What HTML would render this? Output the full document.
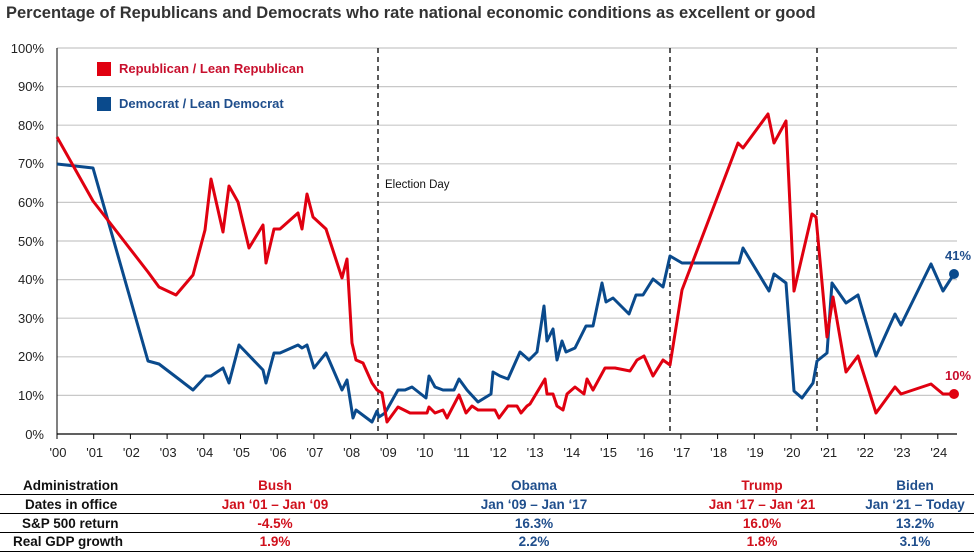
<!DOCTYPE html>
<html><head><meta charset="utf-8"><style>
body{margin:0;background:#fff;}
svg{display:block;font-family:"Liberation Sans",sans-serif;}
</style></head><body>
<svg width="974" height="554" viewBox="0 0 974 554" xmlns="http://www.w3.org/2000/svg">
<text x="6" y="18" font-size="16.5" font-weight="bold" fill="#333">Percentage of Republicans and Democrats who rate national economic conditions as excellent or good</text>
<g stroke="#c8c8c8" stroke-width="1.2">
<line x1="57" x2="957" y1="48" y2="48"/><line x1="57" x2="957" y1="86.6" y2="86.6"/><line x1="57" x2="957" y1="125.2" y2="125.2"/><line x1="57" x2="957" y1="163.8" y2="163.8"/><line x1="57" x2="957" y1="202.4" y2="202.4"/><line x1="57" x2="957" y1="241" y2="241"/><line x1="57" x2="957" y1="279.6" y2="279.6"/><line x1="57" x2="957" y1="318.2" y2="318.2"/><line x1="57" x2="957" y1="356.8" y2="356.8"/><line x1="57" x2="957" y1="395.4" y2="395.4"/>
</g>
<g font-size="13" fill="#222" text-anchor="end">
<text x="44" y="53">100%</text><text x="44" y="91">90%</text><text x="44" y="130">80%</text><text x="44" y="168">70%</text><text x="44" y="207">60%</text><text x="44" y="246">50%</text><text x="44" y="284">40%</text><text x="44" y="323">30%</text><text x="44" y="361">20%</text><text x="44" y="400">10%</text><text x="44" y="439">0%</text>
</g>
<line x1="57" y1="48" x2="57" y2="434" stroke="#000" stroke-width="1"/>
<line x1="57" y1="434" x2="957" y2="434" stroke="#000" stroke-width="1.2"/>
<g stroke="#000" stroke-width="1" id="ticks"></g>
<g font-size="13" fill="#222" text-anchor="middle" id="yl"></g>
<g stroke="#000" stroke-width="1.3" stroke-dasharray="5,4">
<line x1="378" y1="48" x2="378" y2="434"/><line x1="670" y1="48" x2="670" y2="434"/><line x1="817" y1="48" x2="817" y2="434"/>
</g>
<text x="385" y="188" font-size="11.5" fill="#111">Election Day</text>
<rect x="97" y="62" width="14" height="14" fill="#e00010"/>
<text x="119" y="73" font-size="13" font-weight="bold" fill="#c8102e">Republican  / Lean Republican</text>
<rect x="97" y="97" width="14" height="14" fill="#0a4a8c"/>
<text x="119" y="108" font-size="13" font-weight="bold" fill="#1f4e8c">Democrat / Lean Democrat</text>
<polyline fill="none" stroke="#0a4a8c" stroke-width="3" stroke-linejoin="round" points="57,164 93,168 148,361 159,364 180,380 193,390 206,376 211,376 223,368 229,383 239,345 263,370 266,383 274,353 280,353 298,345 302,348 307,345 314,368 326,353 342,390 347,380 353,418 356,410 372,422 377,411 379,417 385,413 398,390 405,390 412,387 426,398 429,376 435,387 443,390 454,390 459,379 467,390 478,402 491,394 493,372 500,376 508,379 520,352 529,360 537,352 544,306 547,341 553,329 557,360 562,341 566,352 575,348 586,326 593,326 602,283 606,302 613,298 629,314 636,295 643,295 653,279 663,287 670,256 682,263 739,263 743,248 769,291 774,274 786,283 794,391 802,398 813,383 817,361 827,353 832,283 846,303 858,295 876,356 895,314 901,325 931,264 943,291 954,274"/>
<polyline fill="none" stroke="#e00010" stroke-width="3" stroke-linejoin="round" points="57,137 93,201 148,272 159,287 176,295 193,275 205,230 211,179 223,232 229,186 238,202 249,248 263,225 266,263 274,229 280,229 298,213 302,229 307,194 313,217 326,229 342,278 347,259 352,343 356,360 363,363 372,383 377,390 382,393 387,422 398,407 410,413 427,413 429,407 435,413 443,410 447,418 459,395 466,413 472,406 478,410 495,410 499,418 508,406 517,406 521,413 527,406 530,404 545,379 547,394 553,394 557,406 563,410 567,394 575,387 584,394 587,379 593,390 605,368 615,368 630,371 637,360 644,356 653,376 663,360 670,365 682,290 738,143 743,148 768,114 774,143 786,121 794,291 812,214 816,217 827,337 833,297 846,372 858,356 876,413 895,387 901,394 931,384 943,394 954,394"/>
<circle cx="954" cy="274" r="5" fill="#0a4a8c"/>
<circle cx="954" cy="394" r="5" fill="#e00010"/>
<text x="958" y="260" font-size="13" font-weight="bold" fill="#1f4e8c" text-anchor="middle">41%</text>
<text x="958" y="380" font-size="13" font-weight="bold" fill="#c8102e" text-anchor="middle">10%</text>
<g font-size="13.5" font-weight="bold">
<text x="23" y="490" fill="#111">Administration</text>
<text x="25" y="509" fill="#111">Dates in office</text>
<text x="22" y="528" fill="#111">S&amp;P 500 return</text>
<text x="13" y="546" fill="#111">Real GDP growth</text>
<g text-anchor="middle" fill="#d0101c">
<text x="275" y="490">Bush</text><text x="275" y="509">Jan ‘01 – Jan ‘09</text><text x="275" y="528">-4.5%</text><text x="275" y="546">1.9%</text>
<text x="762" y="490">Trump</text><text x="762" y="509">Jan ‘17 – Jan ‘21</text><text x="762" y="528">16.0%</text><text x="762" y="546">1.8%</text>
</g>
<g text-anchor="middle" fill="#1f4e8c">
<text x="534" y="490">Obama</text><text x="534" y="509">Jan ‘09 – Jan ‘17</text><text x="534" y="528">16.3%</text><text x="534" y="546">2.2%</text>
<text x="915" y="490">Biden</text><text x="915" y="509">Jan ‘21 – Today</text><text x="915" y="528">13.2%</text><text x="915" y="546">3.1%</text>
</g>
</g>
<g stroke="#000" stroke-width="1">
<line x1="0" x2="974" y1="494.5" y2="494.5"/><line x1="0" x2="974" y1="513.5" y2="513.5"/><line x1="0" x2="974" y1="532.5" y2="532.5"/><line x1="0" x2="974" y1="551.5" y2="551.5"/>
</g>
<script>
var t=document.getElementById('ticks'),l=document.getElementById('yl'),ns='http://www.w3.org/2000/svg';
for(var i=0;i<=24;i++){var x=57+36.7*i;
var ln=document.createElementNS(ns,'line');ln.setAttribute('x1',x);ln.setAttribute('x2',x);ln.setAttribute('y1',434);ln.setAttribute('y2',439);t.appendChild(ln);
var tx=document.createElementNS(ns,'text');tx.setAttribute('x',x+1);tx.setAttribute('y',457);tx.textContent="'"+(i<10?'0':'')+i;l.appendChild(tx);}
</script>
</svg>
</body></html>
